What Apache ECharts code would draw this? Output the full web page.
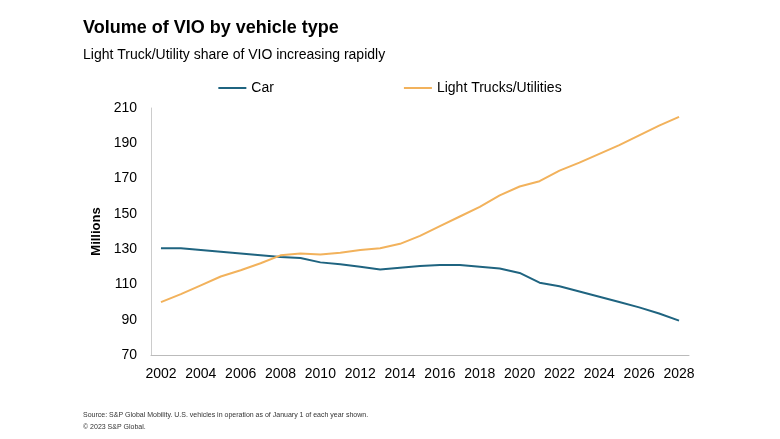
<!DOCTYPE html>
<html><head><meta charset="utf-8">
<script src="https://cdn.jsdelivr.net/npm/echarts@6/dist/echarts.min.js"></script>
<style>html,body{margin:0;padding:0;background:#fff}#c{width:780px;height:439px}</style>
</head><body><div id="c"></div>
<script>
const years = ['2002','2003','2004','2005','2006','2007','2008','2009','2010','2011','2012','2013','2014','2015','2016','2017','2018','2019','2020','2021','2022','2023','2024','2025','2026','2027','2028'];
const car = [130.5,130.5,129.5,128.5,127.5,126.5,125.5,125,122.5,121.5,120,118.5,119.5,120.5,121,121,120,119,116.5,111,109,106,103,100,97,93.5,89.5];
const lightTrucks = [100,104.5,109.5,114.5,118,122,126.5,127.5,127,128,129.5,130.5,133,137.5,143,148.5,154,160.5,165.5,168.5,174.5,179,184,189,194.5,200,205];
const chart = echarts.init(document.getElementById('c'));
chart.setOption({
  animation:false,
  textStyle:{fontFamily:'Arial, Liberation Sans, sans-serif'},
  title:[
    {text:'Volume of VIO by vehicle type',left:78,top:14,textStyle:{fontSize:18,fontWeight:'bold',color:'#000'}},
    {text:'Light Truck/Utility share of VIO increasing rapidly',left:78,top:43,textStyle:{fontSize:14,fontWeight:'normal',color:'#000'}},
    {text:'Source: S&P Global Mobility. U.S. vehicles in operation as of January 1 of each year shown.\n© 2023 S&P Global.',left:78,top:404,textStyle:{fontSize:7,fontWeight:'normal',color:'#333',lineHeight:12}}
  ],
  legend:{top:76,left:'center',itemGap:130,itemWidth:28,itemHeight:2,icon:'rect',textStyle:{fontSize:14,color:'#000'},data:['Car','Light Trucks/Utilities']},
  grid:{left:151,right:91,top:108,bottom:84},
  xAxis:{type:'category',data:years,boundaryGap:true,
    axisLine:{lineStyle:{color:'#bbb'}},axisTick:{show:false},
    axisLabel:{interval:1,color:'#000',fontSize:14,margin:12}},
  yAxis:{type:'value',min:70,max:210,interval:20,name:'Millions',nameLocation:'middle',nameGap:48,
    nameTextStyle:{fontSize:13,fontWeight:'bold',color:'#000'},
    axisLine:{show:true,lineStyle:{color:'#ccc'}},axisTick:{show:false},splitLine:{show:false},
    axisLabel:{color:'#000',fontSize:14,margin:14}},
  series:[
    {name:'Car',type:'line',data:car,symbol:'none',lineStyle:{color:'#1f6480',width:2},itemStyle:{color:'#1f6480'}},
    {name:'Light Trucks/Utilities',type:'line',data:lightTrucks,symbol:'none',lineStyle:{color:'#f2b25c',width:2},itemStyle:{color:'#f2b25c'}}
  ]
});
</script></body></html>
